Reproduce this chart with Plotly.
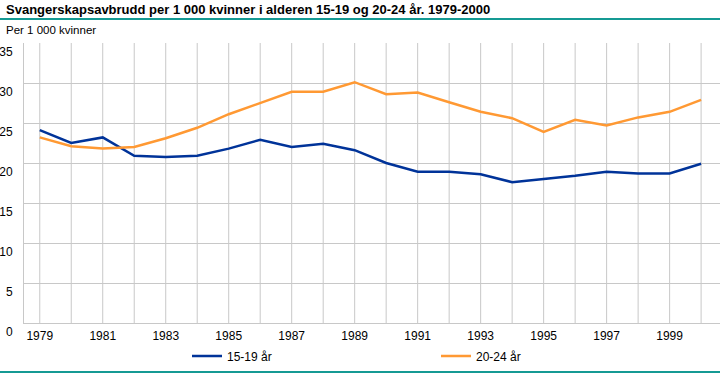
import plotly.graph_objects as go

years = list(range(1979, 2001))
age_15_19 = [24.1, 22.5, 23.2, 20.9, 20.75, 20.9, 21.8, 22.9, 22.0, 22.4, 21.6, 20.0,
             18.9, 18.9, 18.6, 17.6, 18.0, 18.4, 18.9, 18.7, 18.7, 19.9]
age_20_24 = [23.2, 22.1, 21.8, 22.0, 23.1, 24.4, 26.1, 27.5, 28.9, 28.9, 30.1, 28.6,
             28.8, 27.6, 26.4, 25.6, 23.9, 25.4, 24.7, 25.7, 26.4, 27.9]
series_names = ["15-19 år", "20-24 år"]
series_colors = ["#003399", "#ff9933"]
x_tick_vals = list(range(1979, 2001, 2))
y_tick_vals = list(range(0, 40, 5))

title_text = "Svangerskapsavbrudd per 1 000 kvinner i alderen 15-19 og 20-24 år. 1979-2000"
unit_text = "Per 1 000 kvinner"

W, H = 720, 374
L, R, T, B = 24, 0, 43, 51
PW, PH = W - L - R, H - T - B

fig = go.Figure()
for name, vals, col in zip(series_names, [age_15_19, age_20_24], series_colors):
    fig.add_trace(go.Scatter(x=years, y=vals, mode="lines", name=name,
                             line=dict(color=col, width=2.5)))

fig.update_layout(
    width=W, height=H,
    margin=dict(l=L, r=R, t=T, b=B, autoexpand=False),
    paper_bgcolor="white", plot_bgcolor="white",
    font=dict(family="Liberation Sans", size=12, color="black"),
    showlegend=True,
    legend=dict(orientation="h", x=(180 + 7 - L) / PW, xanchor="left",
                y=-(356 - (H - B)) / PH, yanchor="middle",
                entrywidth=204, entrywidthmode="pixels",
                font=dict(size=12), bgcolor="rgba(0,0,0,0)", tracegroupgap=0),
    xaxis=dict(range=[1978.5, 2000.6], tickvals=x_tick_vals, ticktext=[str(v) for v in x_tick_vals],
               showgrid=False, zeroline=False, showline=True, linecolor="#c8c8c8", linewidth=1,
               ticks="", ticklabelstandoff=2, fixedrange=True),
    yaxis=dict(range=[0, 35], tickvals=y_tick_vals, showgrid=True, gridcolor="#c8c8c8", gridwidth=1,
               zeroline=False, showline=True, linecolor="#c8c8c8", linewidth=1,
               ticks="", ticklabelposition="outside bottom", ticklabelstandoff=8, fixedrange=True),
)

# vertical gridlines at every year
for yr in years:
    fig.add_shape(type="line", xref="x", yref="paper", x0=yr, x1=yr, y0=0, y1=1,
                  line=dict(color="#c8c8c8", width=1), layer="below")

# teal rules
fig.add_shape(type="line", xref="paper", yref="paper", x0=-L / PW, x1=1,
              y0=1 + (T - 19) / PH, y1=1 + (T - 19) / PH,
              line=dict(color="#159a94", width=2))
fig.add_shape(type="line", xref="paper", yref="paper", x0=-L / PW, x1=1,
              y0=-(372 - (H - B)) / PH, y1=-(372 - (H - B)) / PH,
              line=dict(color="#159a94", width=2))

fig.add_annotation(text="<b>" + title_text + "</b>", xref="paper", yref="paper",
                   x=-L / PW + 4 / PW, y=1 + (T - 9) / PH,
                   xanchor="left", yanchor="middle", showarrow=False,
                   font=dict(family="Liberation Sans", size=13, color="black"))
fig.add_annotation(text=unit_text, xref="paper", yref="paper",
                   x=-L / PW + 4 / PW, y=1 + (T - 30) / PH,
                   xanchor="left", yanchor="middle", showarrow=False,
                   font=dict(family="Liberation Sans", size=11.5, color="black"))

fig.write_html("out.html", config={"displayModeBar": False, "staticPlot": True},
               post_script="document.body.style.margin='0';document.body.style.overflow='hidden';")
